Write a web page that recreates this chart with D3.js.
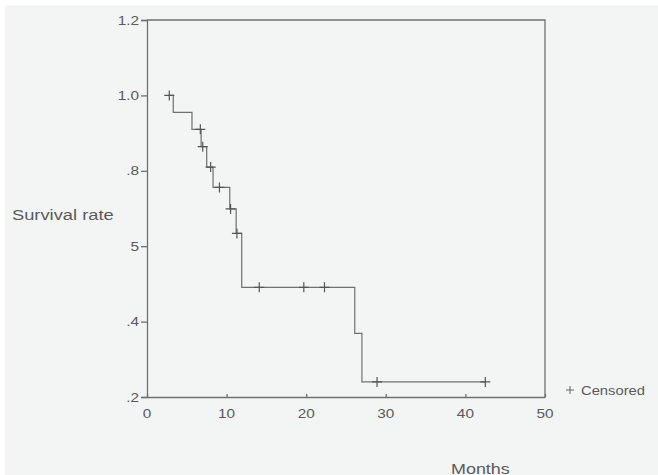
<!DOCTYPE html>
<html>
<head>
<meta charset="utf-8">
<script src="https://cdn.jsdelivr.net/npm/d3@7"></script>
<style>
  body { margin: 0; background: #ffffff; }
  svg { display: block; }
  .lbl { font-family: "Liberation Sans", Arial, sans-serif; fill: #5a5a5a; }
</style>
</head>
<body>
<div id="chart"></div>
<script>
// ── Data ─────────────────────────────────────────────────────────
// Kaplan-Meier steps (month where the curve steps, survival after the step)
const stepMonths   = [2.8, 3.3, 5.65, 6.8, 7.5, 8.3, 10.4, 11.2, 11.9, 26.1, 27.0, 42.5];
const stepSurvival = [1.0, 0.955, 0.91, 0.864, 0.81, 0.756, 0.699, 0.634, 0.491, 0.369, 0.24, 0.24];

// censored observations
const censorMonths   = [2.8, 6.7, 7.0, 8.0, 9.1, 10.5, 11.3, 14.1, 19.7, 22.3, 28.9, 42.5];
const censorSurvival = [1.0, 0.91, 0.864, 0.81, 0.756, 0.699, 0.634, 0.491, 0.491, 0.491, 0.24, 0.24];

const xTicks = [0, 10, 20, 30, 40, 50];
const yTicks = [0.2, 0.4, 0.6, 0.8, 1.0, 1.2];
const yTickLabels = [".2", ".4", "5", ".8", "1.0", "1.2"];

// ── Layout ───────────────────────────────────────────────────────
const width = 658, height = 475;
const margin = { left: 147, right: 113, top: 20, bottom: 78 };
const innerWidth = width - margin.left - margin.right;
const innerHeight = height - margin.top - margin.bottom;
const lineColor = "#707070";
const stretch = 1.18;  // the original text is a bit wide

const svg = d3.select("#chart")
    .append("svg")
    .attr("width", width)
    .attr("height", height);

svg.append("rect")
    .attr("x", 5).attr("y", 5)
    .attr("width", width - 5).attr("height", height - 5)
    .attr("fill", "#f3f4f4");

const inner = svg.append("g")
    .attr("transform", `translate(${margin.left},${margin.top})`);

const xScale = d3.scaleLinear().domain([0, 50]).range([0, innerWidth]);
const yScale = d3.scaleLinear().domain([0.2, 1.2]).range([innerHeight, 0]);

// wide text helper
const addText = (parent, x, y, txt, size, anchor) => {
    const t = parent.append("text")
        .attr("class", "lbl")
        .attr("x", x)
        .attr("y", y)
        .attr("text-anchor", anchor)
        .attr("font-size", size)
        .text(txt);
    const w = t.node().getComputedTextLength();
    t.attr("textLength", w * stretch).attr("lengthAdjust", "spacingAndGlyphs");
};

// Frame (top and right)
inner.append("path")
    .attr("d", `M0,${yScale(1.2)}H${xScale(50)}V${yScale(0.2)}`)
    .attr("fill", "none")
    .attr("stroke", lineColor)
    .attr("stroke-width", 1.3);

// Left axis
const leftAxis = d3.axisLeft(yScale)
    .tickValues(yTicks)
    .tickSize(6)
    .tickFormat((d, i) => yTickLabels[i]);
const gy = inner.append("g").call(leftAxis);
gy.selectAll("path, line").attr("stroke", lineColor).attr("stroke-width", 1.3);
gy.selectAll("text").remove();
yTicks.forEach((t, i) => addText(inner, -8, yScale(t) + 4.5, yTickLabels[i], 13, "end"));

// Bottom axis (ticks pointing into the plot)
const bottomAxis = d3.axisBottom(xScale).tickValues(xTicks).tickSize(-3).tickSizeOuter(0);
const gx = inner.append("g")
    .attr("transform", `translate(0,${innerHeight})`)
    .call(bottomAxis);
gx.selectAll("path, line").attr("stroke", lineColor).attr("stroke-width", 1.3);
gx.selectAll("text").remove();
xTicks.forEach(t => addText(inner, xScale(t), innerHeight + 21, String(t), 13, "middle"));

// Survival curve
const steps = stepMonths.map((m, i) => ({ m, s: stepSurvival[i] }));
const line = d3.line()
    .x(d => xScale(d.m))
    .y(d => yScale(d.s))
    .curve(d3.curveStepAfter);
inner.append("path")
    .datum(steps)
    .attr("d", line)
    .attr("fill", "none")
    .attr("stroke", lineColor)
    .attr("stroke-width", 1.2);

// Censor marks
const censored = censorMonths.map((m, i) => ({ m, s: censorSurvival[i] }));
inner.selectAll(".censor")
    .data(censored)
    .join("path")
    .attr("class", "censor")
    .attr("d", d => {
        const x = xScale(d.m), y = yScale(d.s);
        return `M${x - 5},${y}H${x + 5}M${x},${y - 5}V${y + 5}`;
    })
    .attr("stroke", "#555")
    .attr("stroke-width", 1.2);

// Legend
const lx = xScale(50) + 25, ly = yScale(0.2) - 7;
inner.append("path")
    .attr("d", `M${lx - 4},${ly}H${lx + 4}M${lx},${ly - 4}V${ly + 4}`)
    .attr("stroke", "#666")
    .attr("stroke-width", 1);
addText(inner, lx + 11, ly + 5, "Censored", 12.5, "start");

// Axis titles
addText(svg, 12, 220, "Survival rate", 15.5, "start");
addText(svg, 451, 474, "Months", 15.2, "start");
</script>
</body>
</html>
